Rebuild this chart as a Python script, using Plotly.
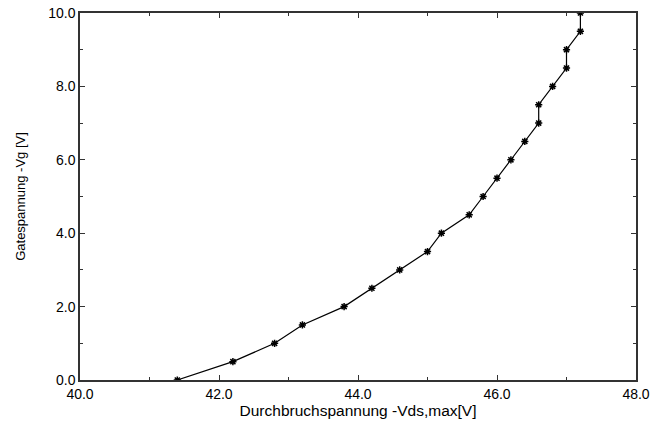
import plotly.graph_objects as go

vds_max = [41.4, 42.2, 42.8, 43.2, 43.8, 44.2, 44.6, 45.0, 45.2, 45.6, 45.8,
           46.0, 46.2, 46.4, 46.6, 46.6, 46.8, 47.0, 47.0, 47.2, 47.2]
vg = [0.0, 0.5, 1.0, 1.5, 2.0, 2.5, 3.0, 3.5, 4.0, 4.5, 5.0,
      5.5, 6.0, 6.5, 7.0, 7.5, 8.0, 8.5, 9.0, 9.5, 10.0]

x_ticks = [40.0, 42.0, 44.0, 46.0, 48.0]
y_ticks = [0.0, 2.0, 4.0, 6.0, 8.0, 10.0]

FONT = "Liberation Sans, Arial, sans-serif"

fig = go.Figure()
fig.add_trace(go.Scatter(
    x=vds_max, y=vg, mode="lines+markers",
    line=dict(color="black", width=1.2),
    marker=dict(symbol="asterisk-open", size=6, color="black",
                line=dict(color="black", width=1.5)),
    showlegend=False,
))

axis_common = dict(
    showgrid=False, zeroline=False, showline=True, linecolor="#333333",
    linewidth=1.5, mirror="allticks", ticks="inside", ticklen=5,
    tickwidth=1, tickcolor="#333333", automargin=False,
    tickfont=dict(family=FONT, size=14, color="black"),
    minor=dict(ticks="inside", ticklen=3, tickwidth=1, tickcolor="#333333", dtick=1),
)

fig.update_xaxes(
    range=[40, 48], tickvals=x_ticks, ticktext=[f"{v:.1f}" for v in x_ticks],
    title=dict(text="Durchbruchspannung -Vds,max[V]", standoff=2,
               font=dict(family=FONT, size=15.5, color="black")),
    **axis_common,
)
fig.update_yaxes(
    range=[0, 10], tickvals=y_ticks, ticktext=[f"{v:.1f}" for v in y_ticks],
    title=dict(text="Gatespannung -Vg [V]", standoff=20,
               font=dict(family=FONT, size=13, color="black")),
    **axis_common,
)

fig.update_layout(
    width=650, height=421,
    margin=dict(l=80, r=14, t=13, b=41),
    plot_bgcolor="white", paper_bgcolor="white",
)

fig.write_html("out.html")
